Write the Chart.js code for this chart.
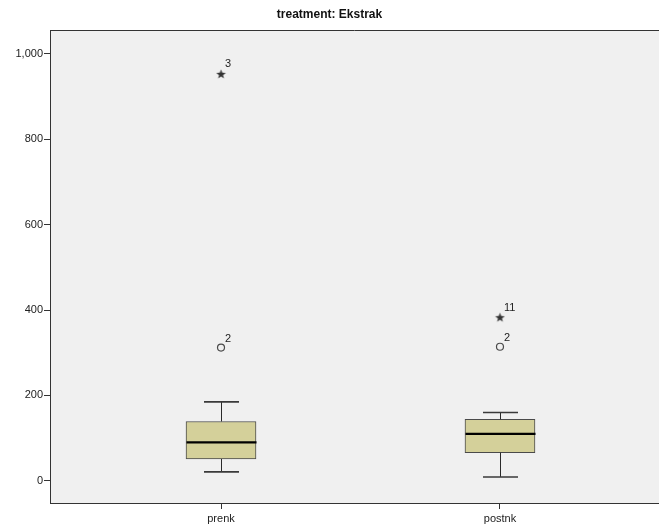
<!DOCTYPE html>
<html>
<head>
<meta charset="utf-8">
<title>treatment: Ekstrak</title>
<script src="https://cdn.jsdelivr.net/npm/chart.js@4.4.1/dist/chart.umd.min.js"></script>
<style>
  html, body { margin: 0; padding: 0; background: #ffffff; }
  #wrap { width: 659px; height: 525px; position: relative; }
</style>
</head>
<body>
<div id="wrap"><canvas id="chart" width="659" height="525"></canvas></div>
<script>
// Box plot summary per variable
const categories = ['prenk', 'postnk'];
const whiskerLow = [21, 9];
const q1 = [51, 66];
const medians = [90, 110];
const q3 = [139, 144];
const whiskerHigh = [185, 160];

// Outliers (circle) and extreme values (star), with case numbers
const outlierCat = [0, 1];
const outlierValues = [312, 314];
const outlierCases = ['2', '2'];
const extremeCat = [0, 1];
const extremeValues = [952, 382];
const extremeCases = ['3', '11'];

const yTicks = [0, 200, 400, 600, 800, 1000];
const chartTitle = 'treatment: Ekstrak';

const FONT = '"Liberation Sans", Arial, sans-serif';
const AXIS_COLOR = '#333333';

// Small filled star used as the marker for extreme values
function makeStar() {
  const c = document.createElement('canvas');
  c.width = 11; c.height = 11;
  const g = c.getContext('2d');
  g.fillStyle = '#333333';
  g.beginPath();
  for (let k = 0; k < 10; k++) {
    const r = k % 2 === 0 ? 5 : 2.1;
    const a = -Math.PI / 2 + k * Math.PI / 5;
    const px = 5.5 + r * Math.cos(a), py = 5.5 + r * Math.sin(a);
    if (k === 0) g.moveTo(px, py); else g.lineTo(px, py);
  }
  g.closePath();
  g.fill();
  return c;
}

// Plot background and frame
const frame = {
  id: 'frame',
  beforeDraw(chart) {
    const { ctx, chartArea: a } = chart;
    ctx.save();
    ctx.fillStyle = '#f0f0f0';
    ctx.fillRect(a.left, a.top, a.right - a.left, a.bottom - a.top);
    ctx.restore();
  },
  afterDraw(chart) {
    const { ctx, chartArea: a } = chart;
    ctx.save();
    ctx.strokeStyle = AXIS_COLOR;
    ctx.lineWidth = 1;
    ctx.beginPath();
    ctx.moveTo(a.left, Math.round(a.top) + 0.5);
    ctx.lineTo(a.right, Math.round(a.top) + 0.5);
    ctx.stroke();
    ctx.restore();
  }
};

// Whiskers, caps, medians and case labels
const boxParts = {
  id: 'boxParts',
  afterDatasetsDraw(chart) {
    const { ctx } = chart;
    const xs = chart.scales.x, ys = chart.scales.y;
    const boxMeta = chart.getDatasetMeta(0);
    ctx.save();
    categories.forEach((_, i) => {
      const x = Math.round(xs.getPixelForValue(i)) + 0.5;
      const yLo = ys.getPixelForValue(whiskerLow[i]);
      const yQ1 = ys.getPixelForValue(q1[i]);
      const yQ3 = ys.getPixelForValue(q3[i]);
      const yHi = ys.getPixelForValue(whiskerHigh[i]);
      const yMed = ys.getPixelForValue(medians[i]);
      const half = boxMeta.data[i].width / 2;
      const cap = 17.5;

      ctx.strokeStyle = '#2a2a2a';
      ctx.lineWidth = 1;
      ctx.beginPath();
      ctx.moveTo(x, yQ1); ctx.lineTo(x, yLo);
      ctx.moveTo(x, yQ3); ctx.lineTo(x, yHi);
      ctx.stroke();

      ctx.strokeStyle = '#3a3a3a';
      ctx.lineWidth = 1.6;
      ctx.beginPath();
      ctx.moveTo(x - cap, yLo); ctx.lineTo(x + cap, yLo);
      ctx.moveTo(x - cap, yHi); ctx.lineTo(x + cap, yHi);
      ctx.stroke();

      ctx.strokeStyle = '#000000';
      ctx.lineWidth = 2.4;
      ctx.beginPath();
      ctx.moveTo(x - half, yMed); ctx.lineTo(x + half, yMed);
      ctx.stroke();
    });

    ctx.fillStyle = '#222222';
    ctx.font = '11px ' + FONT;
    ctx.textAlign = 'left';
    ctx.textBaseline = 'middle';
    outlierCat.forEach((c, i) => {
      ctx.fillText(outlierCases[i], xs.getPixelForValue(c) + 4, ys.getPixelForValue(outlierValues[i]) - 9);
    });
    extremeCat.forEach((c, i) => {
      ctx.fillText(extremeCases[i], xs.getPixelForValue(c) + 4, ys.getPixelForValue(extremeValues[i]) - 10);
    });
    ctx.restore();
  }
};

new Chart(document.getElementById('chart'), {
  type: 'bar',
  data: {
    datasets: [
      {
        type: 'bar',
        label: 'box',
        data: categories.map((_, i) => ({ x: i, y: [q1[i], q3[i]] })),
        backgroundColor: '#d4d09a',
        borderColor: '#4a4a4a',
        borderWidth: 1,
        borderSkipped: false,
        barThickness: 70
      },
      {
        type: 'scatter',
        label: 'outliers',
        data: outlierCat.map((c, i) => ({ x: c, y: outlierValues[i] })),
        pointStyle: 'circle',
        pointRadius: 3.5,
        pointBorderWidth: 1.2,
        pointBorderColor: '#4a4a4a',
        pointBackgroundColor: 'rgba(0,0,0,0)'
      },
      {
        type: 'scatter',
        label: 'extremes',
        data: extremeCat.map((c, i) => ({ x: c, y: extremeValues[i] })),
        pointStyle: makeStar(),
        pointRadius: 5
      }
    ]
  },
  options: {
    responsive: false,
    animation: false,
    layout: { padding: 0, autoPadding: false },
    plugins: {
      legend: { display: false },
      tooltip: { enabled: false },
      title: {
        display: true,
        text: chartTitle,
        color: '#111111',
        font: { family: FONT, size: 12, weight: 'bold' },
        padding: { top: 7, bottom: 8.6 }
      }
    },
    scales: {
      x: {
        type: 'linear',
        offset: false,
        min: -0.613,
        max: 1.570,
        afterBuildTicks(scale) { scale.ticks = categories.map((_, i) => ({ value: i })); },
        afterFit(scale) { scale.height = 22; scale.paddingLeft = 0; scale.paddingRight = 0; },
        ticks: {
          autoSkip: false,
          maxRotation: 0,
          padding: 3,
          color: '#222222',
          font: { family: FONT, size: 11 },
          callback: (v) => categories[v]
        },
        grid: { offset: false, drawOnChartArea: false, drawTicks: true, tickLength: 6, color: AXIS_COLOR },
        border: { display: true, color: AXIS_COLOR, width: 1 }
      },
      y: {
        type: 'linear',
        min: -52,
        max: 1056,
        afterBuildTicks(scale) { scale.ticks = yTicks.map(v => ({ value: v })); },
        afterFit(scale) { scale.width = 50; },
        ticks: {
          padding: 1,
          color: '#222222',
          font: { family: FONT, size: 11 },
          callback: (v) => v.toLocaleString('en-US')
        },
        grid: { drawOnChartArea: false, drawTicks: true, tickLength: 6, color: AXIS_COLOR },
        border: { display: true, color: AXIS_COLOR, width: 1 }
      }
    }
  },
  plugins: [frame, boxParts]
});
</script>
</body>
</html>
